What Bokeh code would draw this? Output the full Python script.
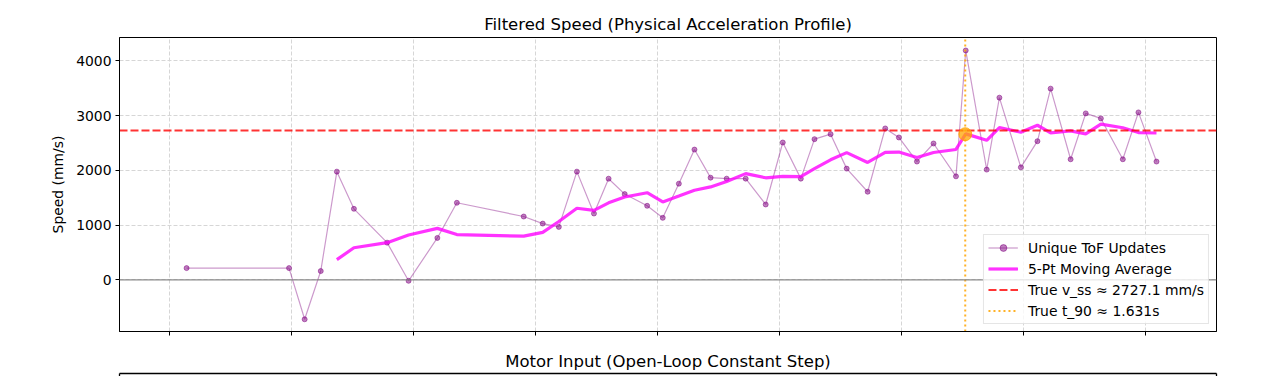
from bokeh.plotting import figure
from bokeh.models import Range1d, FixedTicker, Span, Legend, LegendItem, ColumnDataSource, LinearAxis
from bokeh.layouts import column
from bokeh.embed import file_html
from bokeh.resources import INLINE

# ---- data ----
t_raw = [0.035, 0.245, 0.277, 0.310, 0.343, 0.378, 0.446, 0.490, 0.549, 0.589,
         0.726, 0.765, 0.798, 0.835, 0.870, 0.900, 0.933, 0.979, 1.011, 1.044,
         1.076, 1.109, 1.142, 1.181, 1.222, 1.257, 1.294, 1.322, 1.355, 1.388,
         1.431, 1.467, 1.495, 1.532, 1.566, 1.612, 1.632, 1.675, 1.701, 1.745,
         1.779, 1.806, 1.847, 1.878, 1.909, 1.954, 1.986, 2.023]
v_raw = [214, 214, -721, 160, 1976, 1297, 679, -18, 765, 1407,
         1156, 1027, 967, 1976, 1211, 1847, 1566, 1352, 1132, 1756,
         2379, 1866, 1848, 1848, 1376, 2508, 1848, 2569, 2661, 2031,
         1609, 2765, 2600, 2160, 2490, 1890, 4189, 2013, 3327, 2055,
         2532, 3492, 2202, 3040, 2948, 2202, 3058, 2160]
t_ma = t_raw[4:]
v_ma = [368.6, 585.2, 678.2, 818.8, 939.8, 826.0, 797.8, 867.4, 1064.4, 1306.6,
        1267.4, 1405.6, 1513.4, 1590.4, 1421.6, 1530.6, 1637.0, 1697.0, 1796.2, 1939.4,
        1863.4, 1889.2, 1885.6, 2029.8, 2192.4, 2323.4, 2143.6, 2327.0, 2333.2, 2233.0,
        2324.8, 2381.0, 2665.8, 2548.4, 2781.8, 2694.8, 2823.2, 2683.8, 2721.6, 2664.2,
        2842.8, 2776.8, 2690.0, 2681.6]
v_ss = 2727.1
t_90 = 1.631
v_at_t90 = 2660
x_ticks = [0.0, 0.25, 0.5, 0.75, 1.0, 1.25, 1.5, 1.75, 2.0]
y_ticks = [0, 1000, 2000, 3000, 4000]
x_lim = (-0.1025, 2.146)
y_lim = (-944, 4426)

FONT = "DejaVu Sans"

p1 = figure(width=1272, height=340, output_backend="svg", toolbar_location=None,
            x_range=Range1d(*x_lim), y_range=Range1d(*y_lim),
            min_border_left=119, min_border_right=56, min_border_top=37, min_border_bottom=9,
            title="Filtered Speed (Physical Acceleration Profile)")
p1.title.align = "center"
p1.title.text_font = FONT
p1.title.text_font_size = "16.5px"
p1.title.text_font_style = "normal"
p1.title.text_color = "black"
p1.title.standoff = 7
p1.outline_line_color = "black"
p1.outline_line_alpha = 1
p1.outline_line_width = 1

p1.xaxis.ticker = FixedTicker(ticks=x_ticks)
p1.yaxis.ticker = FixedTicker(ticks=y_ticks)
p1.yaxis.axis_label = "Speed (mm/s)"
for ax in (p1.xaxis, p1.yaxis):
    ax.axis_line_color = "black"
    ax.major_tick_line_color = "black"
    ax.major_tick_out = 4
    ax.major_tick_in = 0
    ax.minor_tick_line_color = None
    ax.major_label_text_font = FONT
    ax.major_label_text_font_size = "13.9px"
    ax.major_label_text_color = "black"
    ax.axis_label_text_font = FONT
    ax.axis_label_text_font_size = "13.9px"
    ax.axis_label_text_font_style = "normal"
    ax.axis_label_text_color = "black"
# shared-x style: x tick labels hidden on the upper panel
p1.xaxis.major_label_text_color = None
p1.xaxis.major_label_text_font_size = "1px"
p1.xaxis.major_label_standoff = 0
p1.yaxis.major_label_standoff = 4
p1.yaxis.axis_label_standoff = 7

p1.grid.grid_line_color = "#d6d6d6"
p1.grid.grid_line_dash = "4 2"
p1.grid.grid_line_width = 1

zero = Span(location=0, dimension="width", line_color="gray", line_width=1.2, line_alpha=0.9)
p1.add_layout(zero)

src_raw = ColumnDataSource(dict(t=t_raw, v=v_raw))
src_ma = ColumnDataSource(dict(t=t_ma, v=v_ma))
raw_line = p1.line("t", "v", source=src_raw, line_color="purple", line_alpha=0.4, line_width=1.2)
raw_pts = p1.scatter("t", "v", source=src_raw, size=5, fill_color="purple", fill_alpha=0.5,
                     line_color="purple", line_alpha=0.5)
ma_line = p1.line("t", "v", source=src_ma, line_color="magenta", line_alpha=0.8, line_width=3.2)

vss_line = p1.line(list(x_lim), [v_ss, v_ss], line_color="red", line_alpha=0.8,
                   line_width=2, line_dash="8 3")
t90_line = p1.line([t_90, t_90], list(y_lim), line_color="orange", line_alpha=0.85,
                   line_width=2, line_dash="2 3")

p1.scatter([t_90], [v_at_t90], size=13, fill_color="orange", fill_alpha=0.75,
           line_color="orange", line_alpha=0.75)

legend = Legend(items=[
    LegendItem(label="Unique ToF Updates", renderers=[raw_line, raw_pts]),
    LegendItem(label="5-Pt Moving Average", renderers=[ma_line]),
    LegendItem(label="True v_ss \u2248 2727.1 mm/s", renderers=[vss_line]),
    LegendItem(label="True t_90 \u2248 1.631s", renderers=[t90_line]),
], location="bottom_right")
legend.margin = 7
legend.padding = 4
legend.spacing = 4
legend.label_height = 17
legend.glyph_height = 17
legend.glyph_width = 30
legend.label_standoff = 10
legend.label_text_font = FONT
legend.label_text_font_size = "13.9px"
legend.label_text_color = "black"
legend.border_line_color = "#cccccc"
legend.border_line_width = 1
legend.background_fill_alpha = 0.8
p1.add_layout(legend)

# ---- second panel (only its title and top edge are inside the window) ----
p2 = figure(width=1272, height=36, output_backend="svg", toolbar_location=None,
            x_range=p1.x_range, y_range=Range1d(0, 1), x_axis_location="above",
            min_border_left=119, min_border_right=56, min_border_top=33, min_border_bottom=0,
            title="Motor Input (Open-Loop Constant Step)")
p2.title.align = "center"
p2.title.text_font = FONT
p2.title.text_font_size = "16.5px"
p2.title.text_font_style = "normal"
p2.title.text_color = "black"
p2.title.standoff = 6
p2.add_layout(LinearAxis(), "right")
for ax in p2.axis:
    ax.ticker = FixedTicker(ticks=[])
    ax.axis_line_color = "black"
    ax.axis_line_width = 1.3
    ax.major_tick_out = 0
    ax.major_tick_in = 0
    ax.minor_tick_line_color = None
    ax.major_label_standoff = 0
p2.grid.visible = False
p2.outline_line_color = None

layout = column(p1, p2, spacing=0)
open("out.html", "w").write(file_html(layout, INLINE))
